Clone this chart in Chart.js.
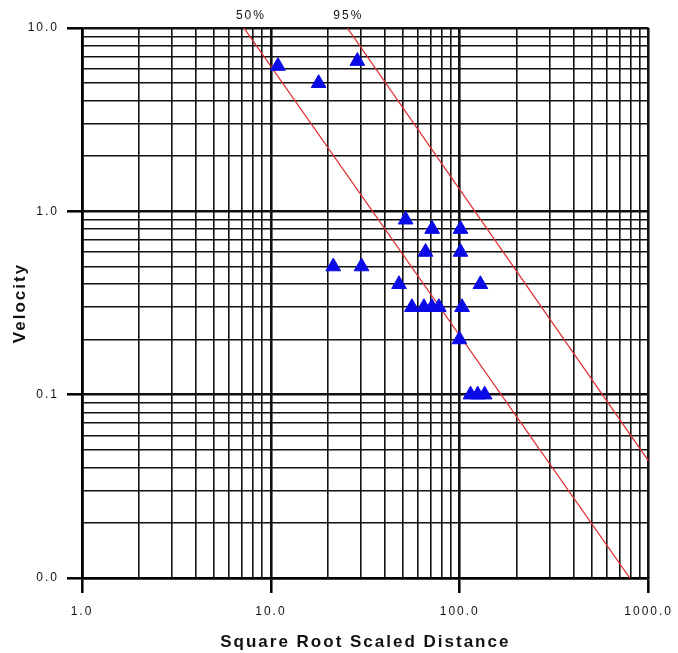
<!DOCTYPE html>
<html>
<head>
<meta charset="utf-8">
<script src="https://cdn.jsdelivr.net/npm/chart.js@4.4.1/dist/chart.umd.min.js"></script>
<style>
  html, body { margin: 0; padding: 0; background: #fff; }
  #wrap { width: 678px; height: 653px; }
</style>
</head>
<body>
<div id="wrap"><canvas id="ppvChart"></canvas></div>
<script>
"use strict";

// measured blasts (square root scaled distance vs peak particle velocity)
const distance = [10.9, 17.9, 28.7, 21.4, 30.2, 51.7, 71.4, 100.9, 65.9, 100.9, 47.7, 128.6,
                  55.8, 64.6, 71.2, 77.5, 102.8, 99.6, 114, 124.5, 135.5];
const velocity = [6.2, 5.0, 6.6, 0.5, 0.5, 0.9, 0.8, 0.8, 0.6, 0.6, 0.4, 0.4,
                  0.3, 0.3, 0.3, 0.3, 0.3, 0.2, 0.1, 0.1, 0.1];

// regression lines (end points)
const fit50X = [7.2, 795];
const fit50Y = [10, 0.01];
const fit95X = [25.4, 1000];
const fit95Y = [10, 0.0434];
const fitLabels = ["50%", "95%"];

// grid / tick values
const xTicks = [1, 2, 3, 4, 5, 6, 7, 8, 9, 10, 20, 30, 40, 50, 60, 70, 80, 90,
                100, 200, 300, 400, 500, 600, 700, 800, 900, 1000];
const yTicks = [0.01, 0.02, 0.03, 0.04, 0.05, 0.06, 0.07, 0.08, 0.09, 0.1, 0.2, 0.3, 0.4, 0.5,
                0.6, 0.7, 0.8, 0.9, 1, 2, 3, 4, 5, 6, 7, 8, 9, 10];
const xMajor = [1, 10, 100, 1000];
const yMajor = [0.01, 0.1, 1, 10];

const FONT = "Arial, 'Liberation Sans', sans-serif";

function toPoints(xs, ys) {
    return xs.map((x, i) => ({ x: x, y: ys[i] }));
}

function axisOptions(values, majors, min, max) {
    return {
        type: 'logarithmic',
        min: min,
        max: max,
        afterBuildTicks: function(axis) {
            axis.ticks = values.map(v => ({ value: v, major: majors.includes(v) }));
        },
        grid: {
            color: '#111',
            lineWidth: ctx => (ctx.tick && ctx.tick.major) ? 2.6 : 1.6,
            tickLength: 15,
            tickColor: ctx => (ctx.tick && ctx.tick.major) ? '#000' : 'rgba(0,0,0,0)',
            tickWidth: 2.5
        },
        border: { color: '#000', width: 2.6 },
        ticks: {
            autoSkip: false,
            maxRotation: 0,
            color: '#111',
            font: { family: FONT, size: 12 },
            callback: function(value) {
                return majors.includes(value) ? value.toFixed(1) : '';
            }
        }
    };
}

// percent labels above the top of each fit line
const fitLabelPlugin = {
    id: 'fitLabels',
    afterDraw(chart) {
        const ctx = chart.ctx;
        const xScale = chart.scales.x;
        const nudge = [7, 1];
        ctx.save();
        ctx.font = "12px " + FONT;
        ctx.fillStyle = '#111';
        ctx.textAlign = 'center';
        ctx.textBaseline = 'middle';
        [fit50X[0], fit95X[0]].forEach((v, i) => {
            ctx.fillText(fitLabels[i], xScale.getPixelForValue(v) + nudge[i], 16);
        });
        ctx.restore();
    }
};

// the source image has widely spaced lettering
const spacingPlugin = {
    id: 'spacing',
    beforeDraw(chart) {
        chart.ctx.letterSpacing = '2px';
    }
};

const xAxis = axisOptions(xTicks, xMajor, 1, 1000);
xAxis.ticks.padding = 11;
xAxis.afterFit = axis => { axis.height = 75; };
xAxis.title = {
    display: true,
    text: 'Square Root Scaled Distance',
    color: '#111',
    font: { family: FONT, size: 17, weight: 'bold' },
    padding: { top: 0, bottom: 0 }
};

const yAxis = axisOptions(yTicks, yMajor, 0.01, 10);
yAxis.ticks.padding = 8;
yAxis.afterFit = axis => { axis.width = 82; };
yAxis.title = {
    display: true,
    text: 'Velocity',
    color: '#111',
    font: { family: FONT, size: 17, weight: 'bold' },
    padding: { top: 10, bottom: 0 }
};

new Chart(document.getElementById('ppvChart'), {
    type: 'scatter',
    data: {
        datasets: [
            {
                label: 'Blasts',
                data: toPoints(distance, velocity),
                pointStyle: 'triangle',
                pointRadius: 8.5,
                pointBackgroundColor: '#0a0ae6',
                pointBorderColor: '#0a0ae6',
                pointBorderWidth: 1,
                order: 0
            },
            {
                label: fitLabels[0],
                data: toPoints(fit50X, fit50Y),
                showLine: true,
                borderColor: '#e03030',
                borderWidth: 1.3,
                pointRadius: 0,
                order: 1
            },
            {
                label: fitLabels[1],
                data: toPoints(fit95X, fit95Y),
                showLine: true,
                borderColor: '#e03030',
                borderWidth: 1.3,
                pointRadius: 0,
                order: 1
            }
        ]
    },
    options: {
        responsive: true,
        maintainAspectRatio: false,
        animation: false,
        layout: { padding: { top: 28, right: 27, left: 0, bottom: 0 } },
        plugins: {
            legend: { display: false },
            tooltip: { enabled: false }
        },
        scales: { x: xAxis, y: yAxis }
    },
    plugins: [spacingPlugin, fitLabelPlugin]
});
</script>
</body>
</html>
